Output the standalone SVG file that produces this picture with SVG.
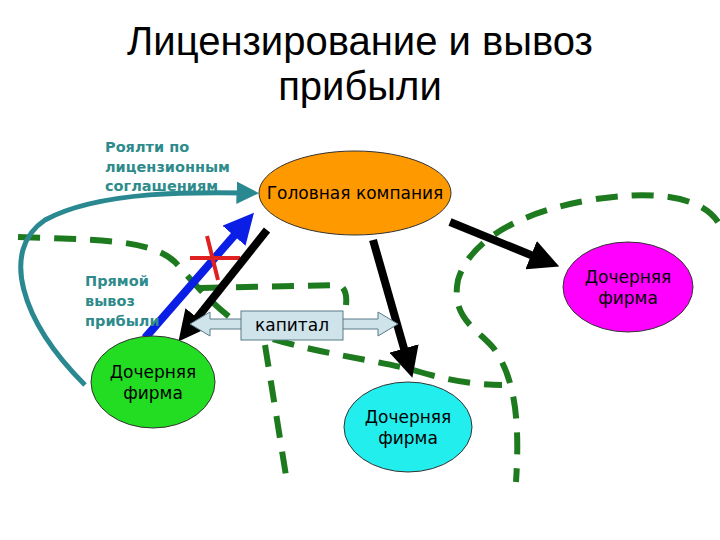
<svg xmlns="http://www.w3.org/2000/svg" width="720" height="540" viewBox="0 0 720 540">
<style>
.t{font-family:"Liberation Sans",Arial,sans-serif}
.lbl{font-family:"DejaVu Sans",sans-serif;font-weight:bold;font-size:14.5px;fill:#2E8B8B}
.n{font-family:"DejaVu Sans",sans-serif;font-size:17px;text-anchor:middle}
.d{fill:none;stroke:#1E7A1E;stroke-width:6;stroke-dasharray:22 14}
.blk{stroke:#000;stroke-width:8;fill:none}
</style>
<defs>
<marker id="ah" viewBox="0 0 10 10" refX="6" refY="5" markerWidth="3.8" markerHeight="3.8" orient="auto"><path d="M0,0L10,5L0,10z" fill="#000"/></marker>
<marker id="bh" viewBox="0 0 10 10" refX="6" refY="5" markerWidth="3.8" markerHeight="3.8" orient="auto"><path d="M0,0L10,5L0,10z" fill="#0A1EE6"/></marker>
<marker id="th" viewBox="0 0 10 10" refX="6" refY="5" markerWidth="4.5" markerHeight="4.5" orient="auto"><path d="M0,0L10,5L0,10z" fill="#2A8890"/></marker>
</defs>
<text class="t" x="360" y="55" font-size="40" text-anchor="middle">Лицензирование и вывоз</text>
<text class="t" x="360" y="100" font-size="40" text-anchor="middle">прибыли</text>
<g id="dashes">
<path class="d" d="M18,237 C90,240 150,238 175,262 C200,290 225,320 260,335 C320,355 380,360 420,372 C460,384 490,385 502,385"/>
<path class="d" d="M200,288 L340,285 C346,290 347,296 346,305"/>
<path class="d" d="M265,345 L287,482"/>
<path class="d" d="M718,222 C700,195 650,190 590,200 C520,212 470,240 458,280 C450,320 480,330 495,350 C515,380 520,420 516,482"/>
</g>
<g id="connectors">
<path d="M85,385 C20,320 0,250 45,220 C100,190 200,192 250,193" fill="none" stroke="#2A8890" stroke-width="5" marker-end="url(#th)"/>
<line x1="145" y1="338" x2="246" y2="222" stroke="#0A1EE6" stroke-width="8" marker-end="url(#bh)"/>
<path d="M190,258 H240 M207,236 L218,280" stroke="#E02020" stroke-width="4"/>
<line class="blk" x1="267" y1="230" x2="186" y2="332" marker-end="url(#ah)"/>
<line class="blk" x1="373" y1="240" x2="409" y2="366" marker-end="url(#ah)"/>
<line class="blk" x1="450" y1="222" x2="548" y2="262" marker-end="url(#ah)"/>
<path d="M190,324 L210,312 V319 H378 V312 L398,324 L378,336 V329 H210 V336 Z" fill="#CFE3EA" stroke="#5A7A88" stroke-width="1"/>
</g>
<g id="kapital">
<rect x="241" y="311" width="102" height="29" fill="#CFE3EA" stroke="#5A7A88" stroke-width="1"/>
<text class="n" x="292" y="331">капитал</text>
</g>
<g id="head">
<ellipse cx="355" cy="193" rx="96" ry="42" fill="#FF9900" stroke="#333" stroke-width="1"/>
<text class="n" x="355" y="199">Головная компания</text>
</g>
<g id="sub-green">
<ellipse cx="153" cy="382" rx="62" ry="46" fill="#22DD22" stroke="#333" stroke-width="1"/>
<text class="n" x="153" y="378">Дочерняя</text><text class="n" x="153" y="399">фирма</text>
</g>
<g id="sub-cyan">
<ellipse cx="408" cy="427" rx="64" ry="45" fill="#22EEEE" stroke="#333" stroke-width="1"/>
<text class="n" x="408" y="423">Дочерняя</text><text class="n" x="408" y="444">фирма</text>
</g>
<g id="sub-magenta">
<ellipse cx="628" cy="287" rx="65" ry="45" fill="#FF00FF" stroke="#333" stroke-width="1"/>
<text class="n" x="628" y="283">Дочерняя</text><text class="n" x="628" y="304">фирма</text>
</g>
<g id="labels">
<text class="lbl" x="105" y="152">Роялти по</text>
<text class="lbl" x="105" y="172">лицензионным</text>
<text class="lbl" x="105" y="191">соглашениям</text>
<text class="lbl" x="85" y="286">Прямой</text>
<text class="lbl" x="85" y="306">вывоз</text>
<text class="lbl" x="85" y="326">прибыли</text>
</g>
</svg>
